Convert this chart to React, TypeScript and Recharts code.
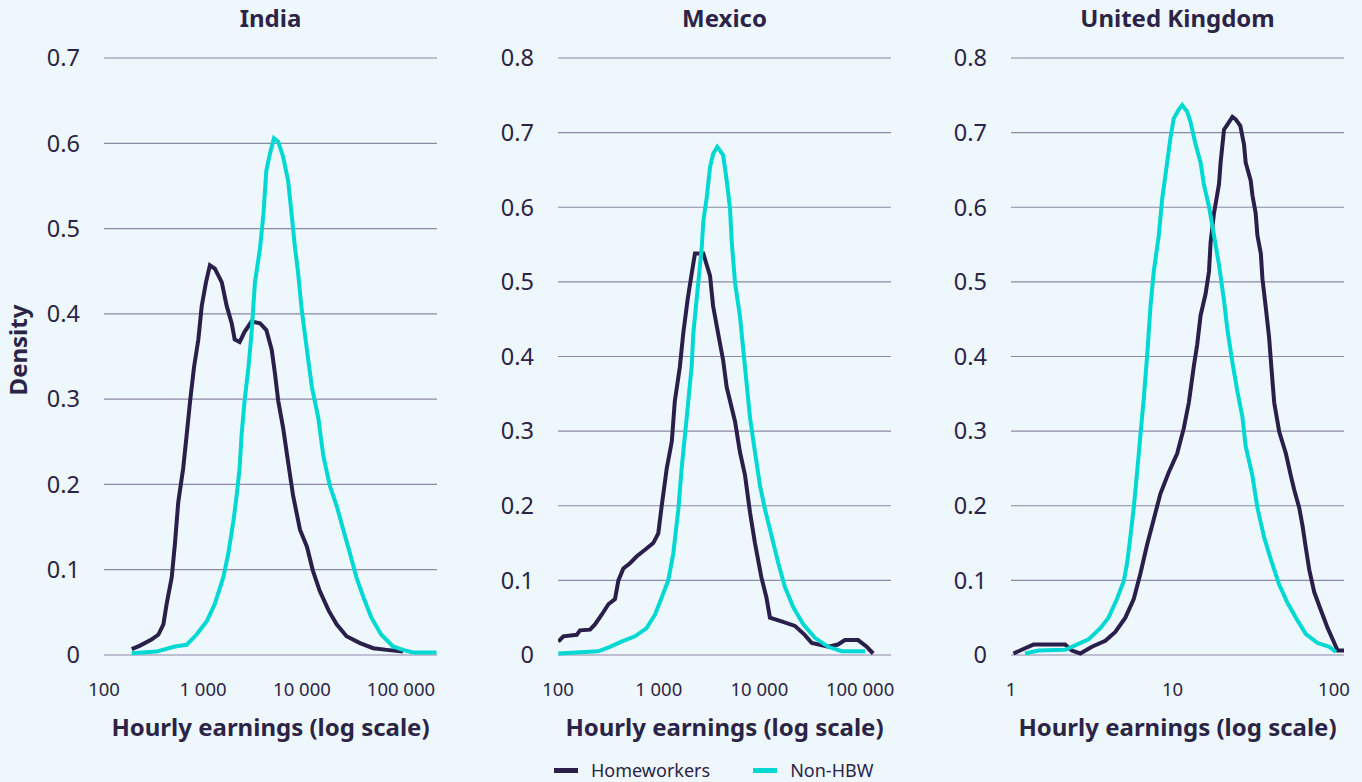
import React from 'react';
import { LineChart, Line, XAxis, YAxis, CartesianGrid } from 'recharts';

// x = log10(hourly earnings), y = density
const indiaHomeworkers: [number, number][] = [
  [2.28, 0.007], [2.364, 0.011], [2.48, 0.018], [2.55, 0.024], [2.6, 0.036], [2.633, 0.06],
  [2.684, 0.091], [2.717, 0.131], [2.75, 0.179], [2.8, 0.219], [2.835, 0.258], [2.87, 0.298],
  [2.91, 0.338], [2.953, 0.37], [2.987, 0.409], [3.03, 0.437], [3.07, 0.457], [3.12, 0.453],
  [3.19, 0.437], [3.24, 0.409], [3.29, 0.389], [3.32, 0.37], [3.37, 0.367], [3.42, 0.379],
  [3.49, 0.391], [3.576, 0.389], [3.64, 0.381], [3.694, 0.358], [3.727, 0.33], [3.76, 0.298],
  [3.81, 0.266], [3.86, 0.226], [3.91, 0.187], [3.98, 0.147], [4.05, 0.127], [4.11, 0.099],
  [4.18, 0.075], [4.27, 0.052], [4.35, 0.036], [4.45, 0.022], [4.586, 0.014], [4.72, 0.008],
  [4.856, 0.006], [5.02, 0.004],
];
const indiaNonHbw: [number, number][] = [
  [2.28, 0.002], [2.53, 0.004], [2.717, 0.01], [2.835, 0.012], [2.936, 0.024], [3.04, 0.04],
  [3.12, 0.06], [3.205, 0.091], [3.256, 0.119], [3.31, 0.159], [3.34, 0.187], [3.37, 0.219],
  [3.39, 0.258], [3.42, 0.298], [3.46, 0.338], [3.49, 0.377], [3.525, 0.437], [3.576, 0.477],
  [3.61, 0.516], [3.626, 0.544], [3.64, 0.568], [3.677, 0.588], [3.717, 0.606], [3.76, 0.602],
  [3.81, 0.584], [3.86, 0.556], [3.896, 0.516], [3.93, 0.477], [3.96, 0.449], [3.997, 0.405],
  [4.05, 0.358], [4.1, 0.314], [4.165, 0.278], [4.215, 0.234], [4.28, 0.199], [4.35, 0.175],
  [4.417, 0.147], [4.485, 0.119], [4.55, 0.091], [4.62, 0.068], [4.7, 0.044], [4.8, 0.024],
  [4.92, 0.01], [5.02, 0.006], [5.12, 0.003], [5.36, 0.003],
];

const mexicoHomeworkers: [number, number][] = [
  [2.003, 0.018], [2.053, 0.025], [2.186, 0.027], [2.218, 0.033], [2.318, 0.034], [2.367, 0.041],
  [2.434, 0.054], [2.5, 0.068], [2.566, 0.075], [2.6, 0.1], [2.649, 0.116], [2.715, 0.123],
  [2.78, 0.132], [2.864, 0.141], [2.946, 0.15], [2.996, 0.163], [3.03, 0.2], [3.08, 0.25],
  [3.13, 0.286], [3.16, 0.34], [3.21, 0.386], [3.244, 0.431], [3.288, 0.477], [3.33, 0.513],
  [3.36, 0.538], [3.443, 0.538], [3.51, 0.508], [3.54, 0.468], [3.59, 0.431], [3.64, 0.395],
  [3.675, 0.359], [3.758, 0.313], [3.807, 0.272], [3.857, 0.241], [3.907, 0.191], [3.956, 0.15],
  [4.02, 0.104], [4.07, 0.077], [4.105, 0.05], [4.22, 0.045], [4.353, 0.039], [4.45, 0.027],
  [4.52, 0.016], [4.684, 0.011], [4.78, 0.014], [4.85, 0.02], [4.98, 0.02], [5.066, 0.011],
  [5.13, 0.002],
];
const mexicoNonHbw: [number, number][] = [
  [2.003, 0.002], [2.4, 0.005], [2.516, 0.011], [2.63, 0.018], [2.765, 0.025], [2.88, 0.036],
  [2.963, 0.054], [3.03, 0.077], [3.095, 0.1], [3.145, 0.136], [3.195, 0.195], [3.228, 0.25],
  [3.278, 0.318], [3.327, 0.386], [3.344, 0.431], [3.377, 0.477], [3.427, 0.545], [3.443, 0.581],
  [3.477, 0.613], [3.51, 0.654], [3.542, 0.672], [3.582, 0.681], [3.64, 0.67], [3.675, 0.636],
  [3.708, 0.599], [3.725, 0.554], [3.758, 0.499], [3.807, 0.454], [3.857, 0.386], [3.907, 0.318],
  [3.956, 0.272], [4.006, 0.227], [4.056, 0.195], [4.122, 0.159], [4.188, 0.123], [4.254, 0.091],
  [4.337, 0.064], [4.436, 0.041], [4.552, 0.023], [4.684, 0.011], [4.817, 0.005], [5.049, 0.005],
];

const ukHomeworkers: [number, number][] = [
  [0.015, 0.002], [0.087, 0.009], [0.139, 0.014], [0.335, 0.014], [0.377, 0.006], [0.429, 0.002],
  [0.501, 0.011], [0.584, 0.019], [0.646, 0.031], [0.708, 0.05], [0.76, 0.075], [0.801, 0.109],
  [0.843, 0.148], [0.884, 0.182], [0.925, 0.216], [0.977, 0.245], [1.029, 0.27], [1.07, 0.304],
  [1.101, 0.338], [1.132, 0.387], [1.153, 0.416], [1.174, 0.455], [1.205, 0.484], [1.226, 0.514],
  [1.236, 0.553], [1.257, 0.592], [1.288, 0.631], [1.298, 0.66], [1.319, 0.704], [1.35, 0.714],
  [1.371, 0.721], [1.39, 0.718], [1.42, 0.709], [1.443, 0.684], [1.453, 0.66], [1.484, 0.636],
  [1.495, 0.616], [1.515, 0.592], [1.526, 0.562], [1.547, 0.538], [1.557, 0.504], [1.578, 0.465],
  [1.598, 0.426], [1.619, 0.367], [1.63, 0.338], [1.661, 0.299], [1.702, 0.27], [1.733, 0.24],
  [1.754, 0.221], [1.785, 0.197], [1.806, 0.172], [1.826, 0.143], [1.847, 0.114], [1.878, 0.084],
  [1.919, 0.06], [1.961, 0.036], [2.002, 0.016], [2.023, 0.006], [2.062, 0.006],
];
const ukNonHbw: [number, number][] = [
  [0.087, 0.002], [0.17, 0.006], [0.335, 0.007], [0.408, 0.014], [0.48, 0.021], [0.553, 0.036],
  [0.604, 0.05], [0.656, 0.075], [0.698, 0.099], [0.719, 0.123], [0.739, 0.158], [0.76, 0.197],
  [0.781, 0.245], [0.801, 0.294], [0.822, 0.343], [0.843, 0.401], [0.863, 0.465], [0.884, 0.514],
  [0.915, 0.562], [0.936, 0.611], [0.967, 0.66], [0.988, 0.694], [1.008, 0.719], [1.039, 0.731],
  [1.06, 0.737], [1.091, 0.728], [1.112, 0.714], [1.143, 0.684], [1.174, 0.66], [1.194, 0.631],
  [1.226, 0.601], [1.257, 0.562], [1.288, 0.523], [1.319, 0.475], [1.34, 0.436], [1.371, 0.392],
  [1.402, 0.353], [1.433, 0.319], [1.453, 0.28], [1.495, 0.24], [1.526, 0.197], [1.567, 0.158],
  [1.609, 0.128], [1.661, 0.094], [1.712, 0.07], [1.764, 0.05], [1.826, 0.028], [1.899, 0.016],
  [1.971, 0.011], [2.012, 0.004],
];

const ticks07 = [0, 0.1, 0.2, 0.3, 0.4, 0.5, 0.6, 0.7];
const ticks08 = [0, 0.1, 0.2, 0.3, 0.4, 0.5, 0.6, 0.7, 0.8];

const FONT = '"Noto Sans", sans-serif';
const INK = '#2b2446';
const DARK = '#2a1f4b';
const CYAN = '#00d8d3';
const GRID = '#8d8aa5';
const BG = '#eef7fc';

const toRows = (pts: [number, number][]) => pts.map(([x, y]) => ({ x, y }));
const fmtEarn = (v: number) =>
  String(Math.round(Math.pow(10, v))).replace(/\B(?=(\d{3})+(?!\d))/g, ' ');

interface PanelProps {
  title: string;
  left: number;
  yw: number;
  yTicks: number[];
  xDomain: [number, number];
  xTicks: number[];
  hbw: [number, number][];
  non: [number, number][];
}

const PLOT_W = 333;
const H = 782;

const Panel = ({ title, left, yw, yTicks, xDomain, xTicks, hbw, non }: PanelProps) => (
  <>
    <div
      style={{
        position: 'absolute', left: left + yw, top: 2, width: PLOT_W, textAlign: 'center',
        fontFamily: FONT, fontWeight: 700, fontSize: 24, lineHeight: '32px', color: INK,
      }}
    >
      {title}
    </div>
    <div style={{ position: 'absolute', left, top: 0 }}>
      <LineChart width={yw + PLOT_W + 10} height={H} margin={{ top: 58, right: 10, left: 0, bottom: 0 }}>
        <CartesianGrid vertical={false} stroke={GRID} strokeWidth={1.2} />
        <XAxis
          type="number"
          dataKey="x"
          domain={xDomain}
          ticks={xTicks}
          interval={0}
          allowDataOverflow
          axisLine={false}
          tickLine={false}
          tickSize={0}
          tickMargin={28}
          height={127}
          tickFormatter={fmtEarn}
          tick={{ fill: INK, fontSize: 18.5, fontFamily: FONT }}
          label={{
            value: 'Hourly earnings (log scale)', position: 'insideTop', offset: 64,
            fill: INK, fontSize: 24, fontWeight: 700, fontFamily: FONT,
          }}
        />
        <YAxis
          type="number"
          domain={[0, yTicks[yTicks.length - 1]]}
          ticks={yTicks}
          interval={0}
          width={yw}
          axisLine={false}
          tickLine={false}
          tickSize={0}
          tickMargin={24}
          tick={{ fill: INK, fontSize: 23.5, fontFamily: FONT }}
        />
        <Line data={toRows(hbw)} dataKey="y" type="linear" stroke={DARK} strokeWidth={4}
          dot={false} isAnimationActive={false} name="Homeworkers" />
        <Line data={toRows(non)} dataKey="y" type="linear" stroke={CYAN} strokeWidth={4}
          dot={false} isAnimationActive={false} name="Non-HBW" />
      </LineChart>
    </div>
  </>
);

export default function App() {
  return (
    <div style={{ position: 'absolute', left: 0, top: 0, width: 1362, height: H, background: BG, overflow: 'hidden' }}>
      <Panel title="India" left={0} yw={104} yTicks={ticks07} xDomain={[2, 5.364]} xTicks={[2, 3, 4, 5]}
        hbw={indiaHomeworkers} non={indiaNonHbw} />
      <Panel title="Mexico" left={460} yw={98} yTicks={ticks08} xDomain={[2, 5.307]} xTicks={[2, 3, 4, 5]}
        hbw={mexicoHomeworkers} non={mexicoNonHbw} />
      <Panel title="United Kingdom" left={920} yw={91} yTicks={ticks08} xDomain={[0, 2.062]} xTicks={[0, 1, 2]}
        hbw={ukHomeworkers} non={ukNonHbw} />
      <div
        style={{
          position: 'absolute', left: 17, top: 350, transform: 'translate(-50%, -50%) rotate(-90deg)',
          fontFamily: FONT, fontWeight: 700, fontSize: 24, color: INK, whiteSpace: 'nowrap',
        }}
      >
        Density
      </div>
      <div
        style={{
          position: 'absolute', left: 554, top: 757, display: 'flex', alignItems: 'center',
          fontFamily: FONT, fontSize: 18, color: INK, lineHeight: '26px',
        }}
      >
        <span style={{ width: 24, height: 5, background: DARK, marginRight: 13 }} />
        <span style={{ marginRight: 43 }}>Homeworkers</span>
        <span style={{ width: 24, height: 5, background: CYAN, marginRight: 13 }} />
        <span>Non-HBW</span>
      </div>
    </div>
  );
}
